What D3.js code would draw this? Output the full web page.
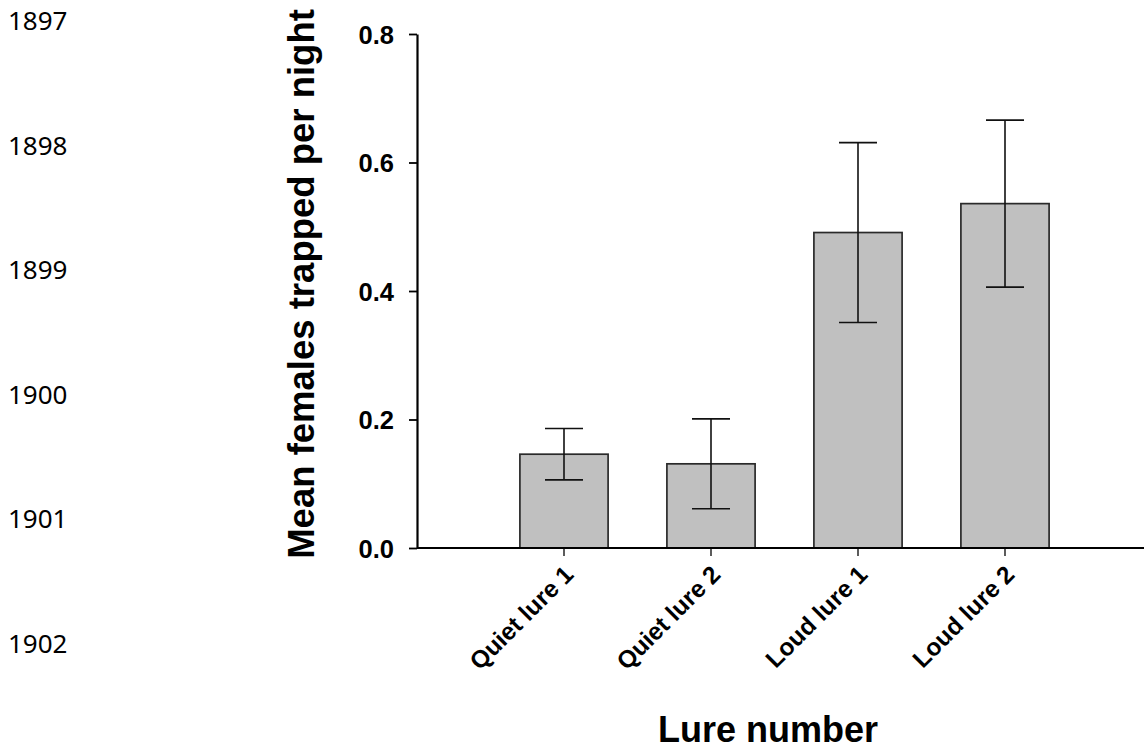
<!DOCTYPE html>
<html>
<head>
<meta charset="utf-8">
<script src="https://cdn.jsdelivr.net/npm/d3@7"></script>
<style>
  body { margin: 0; background: #fff; }
  svg { display: block; }
</style>
</head>
<body>
<svg id="chart"></svg>
<script>
const lures = ["Quiet lure 1", "Quiet lure 2", "Loud lure 1", "Loud lure 2"];
const meanFemales = [0.146, 0.131, 0.491, 0.536];
const errFemales = [0.040, 0.070, 0.140, 0.130];
const yTicks = [0.0, 0.2, 0.4, 0.6, 0.8];
const lineNumbers = ["1897", "1898", "1899", "1900", "1901", "1902"];

const width = 1144;
const height = 749;
const margin = { top: 34, right: 0, bottom: 201, left: 417 };
const step = 147;

const svg = d3.select("#chart")
    .attr("width", width)
    .attr("height", height);

// manuscript line numbers down the left edge
svg.selectAll("text.lineno")
    .data(lineNumbers)
    .enter().append("text")
    .attr("class", "lineno")
    .attr("x", 8)
    .attr("y", (d, i) => 30 + i * 124.6)
    .style("font-family", "'Noto Sans', 'Open Sans', sans-serif")
    .style("font-size", "26px")
    .style("fill", "#000")
    .text(d => d);

const x = d3.scaleBand()
    .domain(lures)
    .range([margin.left + step / 2, margin.left + step / 2 + step * lures.length])
    .padding(0);

const y = d3.scaleLinear()
    .domain([0, 0.8])
    .range([height - margin.bottom, margin.top]);

const barW = x.bandwidth() * 0.6;
const capW = 38;

const data = lures.map((d, i) => ({ lure: d, mean: meanFemales[i], err: errFemales[i] }));

// bars
svg.selectAll("rect.bar")
    .data(data)
    .enter().append("rect")
    .attr("class", "bar")
    .attr("x", d => x(d.lure) + (x.bandwidth() - barW) / 2)
    .attr("y", d => y(d.mean))
    .attr("width", barW)
    .attr("height", d => y(0) - y(d.mean))
    .attr("fill", "#c0c0c0")
    .attr("stroke", "#2a2a2a")
    .attr("stroke-width", 1.7);

// error bars
const errG = svg.selectAll("g.err")
    .data(data)
    .enter().append("g")
    .attr("class", "err")
    .attr("stroke", "#111")
    .attr("stroke-width", 1.6);

errG.append("line")
    .attr("x1", d => x(d.lure) + x.bandwidth() / 2)
    .attr("x2", d => x(d.lure) + x.bandwidth() / 2)
    .attr("y1", d => y(d.mean + d.err))
    .attr("y2", d => y(d.mean - d.err));

errG.append("line")
    .attr("x1", d => x(d.lure) + x.bandwidth() / 2 - capW / 2)
    .attr("x2", d => x(d.lure) + x.bandwidth() / 2 + capW / 2)
    .attr("y1", d => y(d.mean + d.err))
    .attr("y2", d => y(d.mean + d.err));

errG.append("line")
    .attr("x1", d => x(d.lure) + x.bandwidth() / 2 - capW / 2)
    .attr("x2", d => x(d.lure) + x.bandwidth() / 2 + capW / 2)
    .attr("y1", d => y(d.mean - d.err))
    .attr("y2", d => y(d.mean - d.err));

// y axis
const yAxis = svg.append("g")
    .attr("transform", `translate(${margin.left}, 0)`)
    .call(d3.axisLeft(y).tickValues(yTicks).tickFormat(d3.format(".1f")).tickSize(8).tickSizeOuter(0).tickPadding(15));

yAxis.select(".domain").attr("stroke", "#000").attr("stroke-width", 2.2);
yAxis.selectAll(".tick line").attr("stroke", "#000").attr("stroke-width", 1.8);
yAxis.selectAll(".tick text")
    .style("font-family", "'Liberation Sans', Arial, sans-serif")
    .style("font-weight", "bold")
    .style("font-size", "25.5px")
    .attr("dy", "0.36em")
    .style("fill", "#000");

// x axis
const xAxis = svg.append("g")
    .attr("transform", `translate(0, ${y(0)})`)
    .call(d3.axisBottom(x).tickSize(8).tickSizeOuter(0));

xAxis.select(".domain").remove();
xAxis.append("line")
    .attr("x1", margin.left)
    .attr("x2", width)
    .attr("stroke", "#000")
    .attr("stroke-width", 2.2);
xAxis.selectAll(".tick line").attr("stroke", "#333").attr("stroke-width", 1.6);
xAxis.selectAll(".tick text")
    .attr("text-anchor", "end")
    .attr("transform", "translate(11, 28) rotate(-45)")
    .attr("x", 0)
    .attr("y", 0)
    .attr("dy", 0)
    .style("font-family", "'Liberation Sans', Arial, sans-serif")
    .style("font-weight", "bold")
    .style("font-size", "24.5px")
    .style("fill", "#000");

// axis titles
svg.append("text")
    .attr("transform", "translate(314, 284) rotate(-90)")
    .attr("text-anchor", "middle")
    .style("font-family", "'Liberation Sans', Arial, sans-serif")
    .style("font-weight", "bold")
    .style("font-size", "36.5px")
    .text("Mean females trapped per night");

svg.append("text")
    .attr("x", 768)
    .attr("y", 742)
    .attr("text-anchor", "middle")
    .style("font-family", "'Liberation Sans', Arial, sans-serif")
    .style("font-weight", "bold")
    .style("font-size", "36px")
    .text("Lure number");
</script>
</body>
</html>
